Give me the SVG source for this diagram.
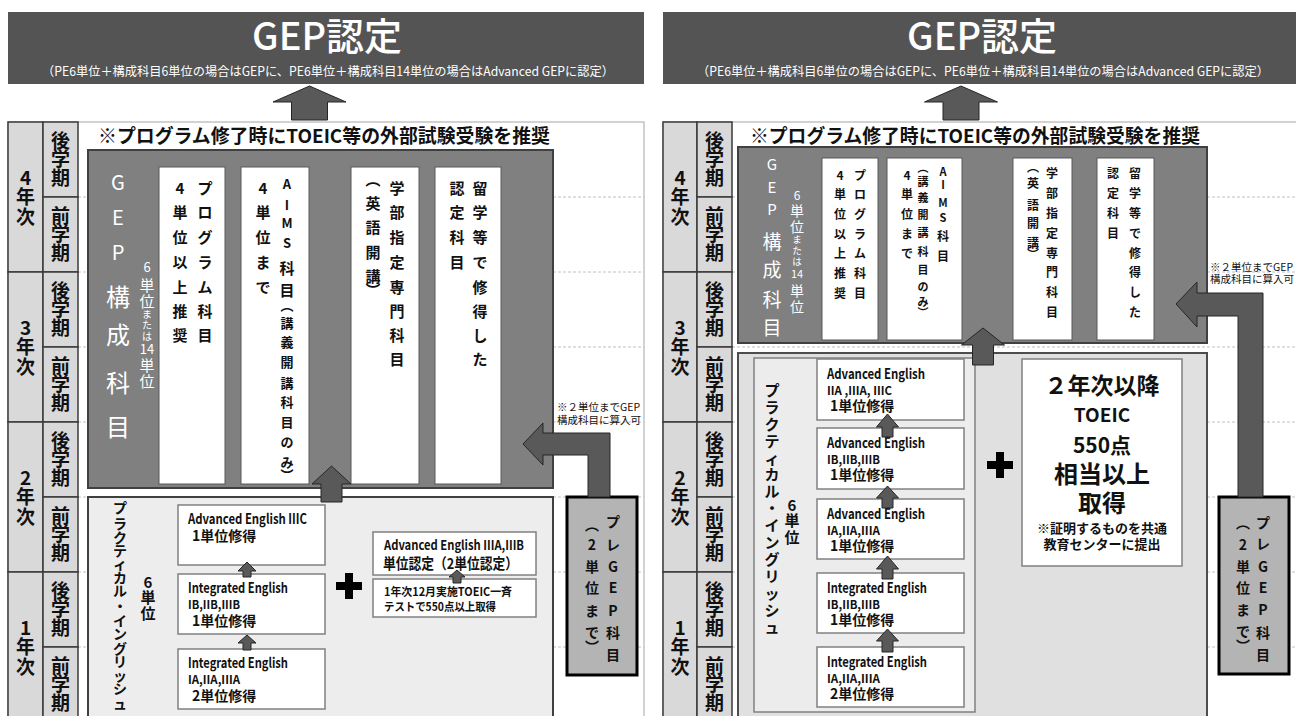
<svg xmlns="http://www.w3.org/2000/svg" width="1296" height="716" viewBox="0 0 1296 716">
<style>
text{font-family:"Noto Sans CJK JP","Noto Sans",sans-serif;fill:#111}
.b{font-weight:700}
.m{text-anchor:middle}
.w{fill:#fff}
.yr{font-size:19px;font-weight:700;text-anchor:middle}
.cell{fill:#d9d9d9;stroke:#3a3a3a;stroke-width:1.5}
.frame{fill:#fff;stroke:#a6a6a6;stroke-width:1}
.dash{stroke:#c0c0c0;stroke-width:1;stroke-dasharray:3 2}
.banner{fill:#545454}
.gep{fill:#808080;stroke:#404040;stroke-width:2}
.wb{fill:#fff;stroke:#595959;stroke-width:1}
.pe{fill:#ededed;stroke:#404040;stroke-width:2}
.pe2{fill:#e0e0e0;stroke:#4d4d4d;stroke-width:2}
.pe3{fill:#ececec;stroke:#808080;stroke-width:1.5}
.cb{fill:#fff;stroke:#808080;stroke-width:1.5}
.arr{fill:#595959;stroke:#262626;stroke-width:1}
.pre{fill:#b4b4b4;stroke:#000;stroke-width:3}
.plus{fill:#000}
.v15{font-size:15px;font-weight:700;text-anchor:middle}
.v14{font-size:14px;font-weight:700;text-anchor:middle}
.v13{font-size:13px;font-weight:700;text-anchor:middle}
.v12{font-size:12px;font-weight:700;text-anchor:middle}
.v11{font-size:11px;font-weight:700;text-anchor:middle}
.e14{font-size:14px;font-weight:700}
.e12{font-size:12px;font-weight:700}
.note{font-size:10.5px}
.hdr{font-size:19px;font-weight:700}
.ttl{font-size:38px;font-weight:500;fill:#fff}
.sub{font-size:12.5px;fill:#fff}
</style>

<!-- ===== LEFT PANEL ===== -->
<g id="left-banner">
<rect class="banner" x="8" y="12" width="636" height="72"/>
<text class="ttl" x="252" y="50" textLength="150" lengthAdjust="spacingAndGlyphs">GEP認定</text>
<text class="sub" x="42" y="76" textLength="572" lengthAdjust="spacingAndGlyphs">（PE6単位＋構成科目6単位の場合はGEPに、PE6単位＋構成科目14単位の場合はAdvanced GEPに認定）</text>
</g>

<g id="left-grid">
<rect class="frame" x="8" y="122" width="636" height="600"/>
<line class="dash" x1="78" y1="197" x2="644" y2="197"/>
<line class="dash" x1="78" y1="272" x2="644" y2="272"/>
<line class="dash" x1="78" y1="347" x2="644" y2="347"/>
<line class="dash" x1="78" y1="422" x2="644" y2="422"/>
<line class="dash" x1="78" y1="497" x2="644" y2="497"/>
<line class="dash" x1="78" y1="572" x2="644" y2="572"/>
<line class="dash" x1="78" y1="647" x2="644" y2="647"/>
<rect class="cell" x="8" y="122" width="35" height="150"/>
<rect class="cell" x="8" y="272" width="35" height="150"/>
<rect class="cell" x="8" y="422" width="35" height="150"/>
<rect class="cell" x="8" y="572" width="35" height="150"/>
<rect class="cell" x="43" y="122" width="35" height="75"/>
<rect class="cell" x="43" y="197" width="35" height="75"/>
<rect class="cell" x="43" y="272" width="35" height="75"/>
<rect class="cell" x="43" y="347" width="35" height="75"/>
<rect class="cell" x="43" y="422" width="35" height="75"/>
<rect class="cell" x="43" y="497" width="35" height="75"/>
<rect class="cell" x="43" y="572" width="35" height="75"/>
<rect class="cell" x="43" y="647" width="35" height="75"/>
<text class="yr" x="25.5 25.5 25.5" y="185 204 224">4年次</text>
<text class="yr" x="25.5 25.5 25.5" y="335 354 374">3年次</text>
<text class="yr" x="25.5 25.5 25.5" y="485 504 524">2年次</text>
<text class="yr" x="25.5 25.5 25.5" y="635 654 674">1年次</text>
<text class="yr" x="60.5 60.5 60.5" y="147.5 166 184.5">後学期</text>
<text class="yr" x="60.5 60.5 60.5" y="222.5 241 259.5">前学期</text>
<text class="yr" x="60.5 60.5 60.5" y="297.5 316 334.5">後学期</text>
<text class="yr" x="60.5 60.5 60.5" y="372.5 391 409.5">前学期</text>
<text class="yr" x="60.5 60.5 60.5" y="447.5 466 484.5">後学期</text>
<text class="yr" x="60.5 60.5 60.5" y="522.5 541 559.5">前学期</text>
<text class="yr" x="60.5 60.5 60.5" y="597.5 616 634.5">後学期</text>
<text class="yr" x="60.5 60.5 60.5" y="672.5 691 709.5">前学期</text>
<text class="hdr" x="98" y="143" textLength="452" lengthAdjust="spacingAndGlyphs">※プログラム修了時にTOEIC等の外部試験受験を推奨</text>
</g>

<g id="left-gep">
<rect class="gep" x="88" y="150" width="465" height="338"/>
<text class="w" font-size="20" text-anchor="middle" x="118 118 118" y="190 225 260">GEP</text>
<text class="w" font-size="24" text-anchor="middle" x="118 118 118 118" y="306 344 392 436">構成科目</text>
<text class="w m" font-size="13" x="147" y="272">6</text>
<text class="w m" font-size="15" x="147 147" y="291 307">単位</text>
<text class="w m" font-size="10" x="147 147 147" y="318 329 340">または</text>
<text class="w m" font-size="13" x="147" y="354">14</text>
<text class="w m" font-size="15" x="147 147" y="371 387">単位</text>
</g>

<g id="left-program">
<rect class="wb" x="159" y="167" width="66" height="317"/>
<text class="v15" x="180 180 180 180 180 180 180" y="194 218 243 268 293 317 341">4単位以上推奨</text>
<text class="v15" x="205 205 205 205 205 205 205" y="194 218 243 268 293 317 341">プログラム科目</text>
</g>

<g id="left-aims">
<rect class="wb" x="241" y="167" width="68" height="317"/>
<text class="v15" x="263 263 263 263 263" y="194 218 243 268 293">4単位まで</text>
<text class="v13" x="287 287 287 287" y="189 210 228 248">AIMS</text>
<text class="v15" x="287 287" y="274 296">科目</text>
<text class="v13" x="287 287 287 287 287 287 287 287 287 287" y="310 328 347 367 388 407 427 447 467 480">︵講義開講科目のみ︶</text>
</g>

<g id="left-faculty">
<rect class="wb" x="351" y="167" width="68" height="317"/>
<text class="v15" x="373 373 373 373 373 373" y="185 209 233 258 282 296">︵英語開講︶</text>
<text class="v15" x="397 397 397 397 397 397 397 397" y="194 218 243 268 293 317 341 365">学部指定専門科目</text>
</g>

<g id="left-abroad">
<rect class="wb" x="435" y="167" width="66" height="317"/>
<text class="v15" x="457 457 457 457" y="194 218 243 268">認定科目</text>
<text class="v15" x="480 480 480 480 480 480 480 480" y="194 218 243 268 293 317 341 365">留学等で修得した</text>
</g>

<g id="left-pe">
<rect class="pe" x="88" y="497" width="465" height="225"/>
<text class="v14" x="120 120 120 120 120 120 120 120 120 120 120 120 120 120 120" y="512.5 528.5 542.5 555.5 568.5 582.5 595.5 610.5 625.5 638.5 653.5 666.5 680.5 693.5 708.5">プラクティカル・イングリッシュ</text>
<text class="v15" font-size="16" x="148 148 148" y="588 603 619">6単位</text>
</g>

<g id="left-ae3c">
<rect class="cb" x="178" y="505" width="147" height="60"/>
<text class="e14" x="188" y="524" textLength="119" lengthAdjust="spacingAndGlyphs">Advanced English IIIC</text>
<text class="e14" x="192" y="541">1単位修得</text>
</g>
<g id="left-ie-b">
<rect class="cb" x="178" y="574" width="147" height="60"/>
<text class="e14" x="188" y="593" textLength="100" lengthAdjust="spacingAndGlyphs">Integrated English</text>
<text class="e12" x="188" y="609" textLength="52" lengthAdjust="spacingAndGlyphs">IB,IIB,IIIB</text>
<text class="e14" x="192" y="626">1単位修得</text>
</g>
<g id="left-ie-a">
<rect class="cb" x="178" y="649" width="147" height="60"/>
<text class="e14" x="188" y="668" textLength="100" lengthAdjust="spacingAndGlyphs">Integrated English</text>
<text class="e12" x="188" y="684" textLength="52" lengthAdjust="spacingAndGlyphs">IA,IIA,IIIA</text>
<text class="e14" x="192" y="701">2単位修得</text>
</g>
<g id="left-plus"><path class="plus" d="M345,573h8v9h9v8h-9v9h-8v-9h-9v-8h9z"/></g>
<g id="left-credit">
<rect class="cb" x="373" y="532" width="163" height="43"/>
<text class="b" font-size="13" x="384" y="550" textLength="140" lengthAdjust="spacingAndGlyphs">Advanced English IIIA,IIIB</text>
<text class="b" font-size="15" x="383" y="569" textLength="135" lengthAdjust="spacingAndGlyphs">単位認定（2単位認定）</text>
</g>
<g id="left-toeic">
<rect class="cb" x="373" y="579" width="163" height="38"/>
<text class="b" font-size="11.5" x="384" y="596" textLength="128" lengthAdjust="spacingAndGlyphs">1年次12月実施TOEIC一斉</text>
<text class="b" font-size="11.5" x="384" y="611" textLength="112" lengthAdjust="spacingAndGlyphs">テストで550点以上取得</text>
</g>
<g id="left-pregep">
<rect class="pre" x="567" y="497" width="70" height="178"/>
<text class="v14" x="613 613 613 613 613 613 613" y="527 550 572 593 616 638 660">プレGEP科目</text>
<text class="v14" x="592 592 592 592 592 592 592" y="530 550 572 593 616 638 652">︵2単位まで︶</text>
</g>
<g id="left-note">
<text class="note" x="557" y="411">※２単位までGEP</text>
<text class="note" x="557" y="424">構成科目に算入可</text>
</g>

<!-- ===== RIGHT PANEL ===== -->
<g id="right-banner">
<rect class="banner" x="663" y="12" width="640" height="72"/>
<text class="ttl" x="907" y="50" textLength="150" lengthAdjust="spacingAndGlyphs">GEP認定</text>
<text class="sub" x="697" y="76" textLength="572" lengthAdjust="spacingAndGlyphs">（PE6単位＋構成科目6単位の場合はGEPに、PE6単位＋構成科目14単位の場合はAdvanced GEPに認定）</text>
</g>

<g id="right-grid">
<rect class="frame" x="663" y="122" width="640" height="600"/>
<line class="dash" x1="732" y1="197" x2="1296" y2="197"/>
<line class="dash" x1="732" y1="272" x2="1296" y2="272"/>
<line class="dash" x1="732" y1="347" x2="1296" y2="347"/>
<line class="dash" x1="732" y1="422" x2="1296" y2="422"/>
<line class="dash" x1="732" y1="497" x2="1296" y2="497"/>
<line class="dash" x1="732" y1="572" x2="1296" y2="572"/>
<line class="dash" x1="732" y1="647" x2="1296" y2="647"/>
<rect class="cell" x="663" y="122" width="34" height="150"/>
<rect class="cell" x="663" y="272" width="34" height="150"/>
<rect class="cell" x="663" y="422" width="34" height="150"/>
<rect class="cell" x="663" y="572" width="34" height="150"/>
<rect class="cell" x="697" y="122" width="35" height="75"/>
<rect class="cell" x="697" y="197" width="35" height="75"/>
<rect class="cell" x="697" y="272" width="35" height="75"/>
<rect class="cell" x="697" y="347" width="35" height="75"/>
<rect class="cell" x="697" y="422" width="35" height="75"/>
<rect class="cell" x="697" y="497" width="35" height="75"/>
<rect class="cell" x="697" y="572" width="35" height="75"/>
<rect class="cell" x="697" y="647" width="35" height="75"/>
<text class="yr" x="680 680 680" y="185 204 224">4年次</text>
<text class="yr" x="680 680 680" y="335 354 374">3年次</text>
<text class="yr" x="680 680 680" y="485 504 524">2年次</text>
<text class="yr" x="680 680 680" y="635 654 674">1年次</text>
<text class="yr" x="714.5 714.5 714.5" y="147.5 166 184.5">後学期</text>
<text class="yr" x="714.5 714.5 714.5" y="222.5 241 259.5">前学期</text>
<text class="yr" x="714.5 714.5 714.5" y="297.5 316 334.5">後学期</text>
<text class="yr" x="714.5 714.5 714.5" y="372.5 391 409.5">前学期</text>
<text class="yr" x="714.5 714.5 714.5" y="447.5 466 484.5">後学期</text>
<text class="yr" x="714.5 714.5 714.5" y="522.5 541 559.5">前学期</text>
<text class="yr" x="714.5 714.5 714.5" y="597.5 616 634.5">後学期</text>
<text class="yr" x="714.5 714.5 714.5" y="672.5 691 709.5">前学期</text>
<text class="hdr" x="750" y="143" textLength="450" lengthAdjust="spacingAndGlyphs">※プログラム修了時にTOEIC等の外部試験受験を推奨</text>
</g>

<g id="right-gep">
<rect class="gep" x="738" y="147" width="469" height="196"/>
<text class="w" font-size="15" text-anchor="middle" x="772 772 772" y="170 193 215">GEP</text>
<text class="w" font-size="19" text-anchor="middle" x="772 772 772 772" y="249 277 307 335">構成科目</text>
<text class="w m" font-size="12" x="797" y="200">6</text>
<text class="w m" font-size="14" x="797 797" y="216 232">単位</text>
<text class="w m" font-size="9.5" x="797 797 797" y="243 254 265">または</text>
<text class="w m" font-size="11" x="797" y="278">14</text>
<text class="w m" font-size="14" x="797 797" y="296 312">単位</text>
</g>

<g id="right-program">
<rect class="wb" x="822" y="158" width="56" height="182"/>
<text class="v12" x="840 840 840 840 840 840 840" y="180 199 219 239 258 278 298">4単位以上推奨</text>
<text class="v12" x="860 860 860 860 860 860 860" y="180 199 219 239 258 278 298">プログラム科目</text>
</g>

<g id="right-aims">
<rect class="wb" x="887" y="158" width="75" height="182"/>
<text class="v12" x="907 907 907 907 907" y="180 199 219 239 258">4単位まで</text>
<text class="v11" x="923 923 923 923 923 923 923 923 923 923" y="172 186 202 219 237 256 274 291 306 317">︵講義開講科目のみ︶</text>
<text class="v11" x="943 943 943 943" y="176 189 207 222">AIMS</text>
<text class="v12" x="943 943" y="241 261">科目</text>
</g>

<g id="right-faculty">
<rect class="wb" x="1013" y="158" width="59" height="182"/>
<text class="v12" x="1033 1033 1033 1033 1033 1033" y="172 188 210 228 248 259">︵英語開講︶</text>
<text class="v12" x="1052 1052 1052 1052 1052 1052 1052 1052" y="178 198 218 238 258 277 297 317">学部指定専門科目</text>
</g>

<g id="right-abroad">
<rect class="wb" x="1097" y="158" width="57" height="182"/>
<text class="v12" x="1113 1113 1113 1113" y="178 198 218 238">認定科目</text>
<text class="v12" x="1135 1135 1135 1135 1135 1135 1135 1135" y="178 198 218 238 258 277 297 317">留学等で修得した</text>
</g>

<g id="right-pe">
<rect class="pe2" x="738" y="353" width="469" height="370"/>
<rect class="pe3" x="754" y="358" width="221" height="354"/>
<text class="v15" font-size="16" x="772 772 772 772 772 772 772 772 772 772 772 772 772 772 772" y="396 413 430 447 464 480 497 514 531 548 565 582 599 616 633">プラクティカル・イングリッシュ</text>
<text class="v15" x="792 792 792" y="511 526 543">6単位</text>
</g>

<g id="right-ae-c">
<rect class="cb" x="817" y="359" width="147" height="61"/>
<text class="e14" x="827" y="378.5" textLength="98" lengthAdjust="spacingAndGlyphs">Advanced English</text>
<text class="e12" x="827" y="394.5" textLength="65" lengthAdjust="spacingAndGlyphs">IIA ,IIIA, IIIC</text>
<text class="e14" x="830" y="411">1単位修得</text>
</g>
<g id="right-ae-b">
<rect class="cb" x="817" y="428" width="147" height="61"/>
<text class="e14" x="827" y="447.5" textLength="98" lengthAdjust="spacingAndGlyphs">Advanced English</text>
<text class="e12" x="827" y="463.5" textLength="53" lengthAdjust="spacingAndGlyphs">IB,IIB,IIIB</text>
<text class="e14" x="830" y="480">1単位修得</text>
</g>
<g id="right-ae-a">
<rect class="cb" x="817" y="499" width="147" height="60"/>
<text class="e14" x="827" y="518.5" textLength="98" lengthAdjust="spacingAndGlyphs">Advanced English</text>
<text class="e12" x="827" y="534.5" textLength="53" lengthAdjust="spacingAndGlyphs">IA,IIA,IIIA</text>
<text class="e14" x="830" y="551">1単位修得</text>
</g>
<g id="right-ie-b">
<rect class="cb" x="817" y="573" width="147" height="60"/>
<text class="e14" x="827" y="592.5" textLength="100" lengthAdjust="spacingAndGlyphs">Integrated English</text>
<text class="e12" x="827" y="608.5" textLength="53" lengthAdjust="spacingAndGlyphs">IB,IIB,IIIB</text>
<text class="e14" x="830" y="625">1単位修得</text>
</g>
<g id="right-ie-a">
<rect class="cb" x="817" y="647" width="147" height="60"/>
<text class="e14" x="827" y="666.5" textLength="100" lengthAdjust="spacingAndGlyphs">Integrated English</text>
<text class="e12" x="827" y="682.5" textLength="53" lengthAdjust="spacingAndGlyphs">IA,IIA,IIIA</text>
<text class="e14" x="830" y="699">2単位修得</text>
</g>
<g id="right-plus"><path class="plus" d="M996,452h8v9h9v8h-9v9h-8v-9h-9v-8h9z"/></g>
<g id="right-toeic">
<rect class="cb" x="1022" y="359" width="160" height="207"/>
<text class="b m" font-size="23" x="1102" y="394">２年次以降</text>
<text class="b m" font-size="19" x="1102" y="422">TOEIC</text>
<text class="b m" font-size="21" x="1102" y="453">550点</text>
<text class="b m" font-size="24" x="1102" y="483">相当以上</text>
<text class="b m" font-size="24" x="1102" y="512">取得</text>
<text class="b m" font-size="13" x="1102" y="533">※証明するものを共通</text>
<text class="b m" font-size="13" x="1102" y="549">教育センターに提出</text>
</g>
<g id="right-pregep">
<rect class="pre" x="1219" y="497" width="70" height="177"/>
<text class="v14" x="1263 1263 1263 1263 1263 1263 1263" y="528 549 572 593 615 638 660">プレGEP科目</text>
<text class="v14" x="1243 1243 1243 1243 1243 1243 1243" y="528 550 572 593 615 637 651">︵2単位まで︶</text>
</g>
<g id="right-note">
<text class="note" x="1210" y="271">※２単位までGEP</text>
<text class="note" x="1210" y="283">構成科目に算入可</text>
</g>

<!-- ===== CONNECTORS ===== -->
<g id="connectors">
<polygon class="arr" points="309.5,86 346,102 327.5,102 327.5,120 291.5,120 291.5,102 273,102"/>
<polygon class="arr" points="331.5,466 351,484 342,484 342,502 321,502 321,484 312,484"/>
<polygon class="arr" points="523,444 543,423 543,433 610,433 610,497 588,497 588,455 543,455 543,465"/>
<polygon class="arr" points="247,562 256,571 251,571 251,577 243,577 243,571 238,571"/>
<polygon class="arr" points="247,635 256,643 251,643 251,650 243,650 243,643 238,643"/>
<polygon class="arr" points="457,570 465,577 461,577 461,583 453,583 453,577 449,577"/>

<polygon class="arr" points="961,86 997.5,102 979,102 979,120 943,120 943,102 924.5,102"/>
<polygon class="arr" points="983,328 1004.5,345 993.5,345 993.5,365 972.5,365 972.5,345 961.5,345"/>
<polygon class="arr" points="1176,304 1197,282 1197,293 1263,293 1263,497 1238,497 1238,316 1197,316 1197,327"/>
<polygon class="arr" points="887.5,414 898.5,427 893,427 893,437 882,437 882,427 876.5,427"/>
<polygon class="arr" points="887.5,486 898.5,498 893,498 893,508 882,508 882,498 876.5,498"/>
<polygon class="arr" points="887.5,556 898.5,569 893,569 893,579 882,579 882,569 876.5,569"/>
<polygon class="arr" points="887.5,629 898.5,641 893,641 893,652 882,652 882,641 876.5,641"/>
</g>
</svg>
